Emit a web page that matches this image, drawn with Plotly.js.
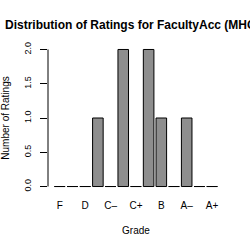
<!DOCTYPE html>
<html>
<head>
<meta charset="utf-8">
<script src="https://cdn.plot.ly/plotly-3.0.1.min.js"></script>
<style>html,body{margin:0;padding:0;background:#fff;}#chart{width:250px;height:250px;}</style>
</head>
<body>
<div id="chart"></div>
<script>
const grades = ['F','D-','D','D+','C-','C','C+','B-','B','B+','A-','A','A+'];
const counts = [0,0,0,1,0,2,0,2,1,0,1,0,0];
const yTicks = [0,0.5,1,1.5,2];
const labelEvery = 2;

const idx = grades.map((g,i)=>i);
const barW = 1/1.2;

// zero-height bars are drawn by R as a flat outline at the baseline
const bx = [], by = [];
counts.forEach((c,i)=>{ if (c===0){ bx.push(i-barW/2, i+barW/2, null); by.push(c, c, null);} });

const font = 'Liberation Sans, Arial, sans-serif';
const tickIdx = idx.filter(i=>i%labelEvery===0);

Plotly.newPlot('chart', [
  {type:'bar', x: idx, y: counts, width: barW,
   marker:{color:'#8e8e8e', line:{color:'#000', width:1}}, hoverinfo:'skip'},
  {type:'scatter', mode:'lines', x: bx, y: by, line:{color:'#000', width:1}, hoverinfo:'skip', cliponaxis:false}
], {
  width:250, height:250, showlegend:false,
  paper_bgcolor:'#fff', plot_bgcolor:'#fff',
  margin:{l:48, r:26, t:44, b:58, pad:0},
  font:{family:font, size:10, color:'#000'},
  title:{text:'<b>Distribution of Ratings for FacultyAcc (MHC)</b>', x:5/250, xanchor:'left', xref:'container',
         y:1-25/250, yanchor:'middle', yref:'container', font:{size:12, family:font}},
  xaxis:{range:[-0.93, 12.94], tickvals: tickIdx, ticktext: tickIdx.map(i=>grades[i].replace('-','\u2013')),
         showline:false, showgrid:false, zeroline:false, ticks:'', ticklabelstandoff:6,
         title:{text:'Grade', standoff:16, font:{size:10}}},
  yaxis:{range:[-0.08, 2.08], tickvals: yTicks, ticktext: yTicks.map(v=>v.toFixed(1)),
         showline:false, showgrid:false, zeroline:false, ticks:'outside', ticklen:7, tickwidth:1, tickcolor:'#000',
         tickangle:-90, ticklabelstandoff:5, tickfont:{size:9},
         title:{text:'Number of Ratings', standoff:11, font:{size:10}}},
  shapes:[{type:'line', xref:'paper', x0:0, x1:0, yref:'y', y0:yTicks[0], y1:yTicks[yTicks.length-1], line:{color:'#000', width:1}}]
}, {staticPlot:true, displayModeBar:false});
</script>
</body>
</html>
